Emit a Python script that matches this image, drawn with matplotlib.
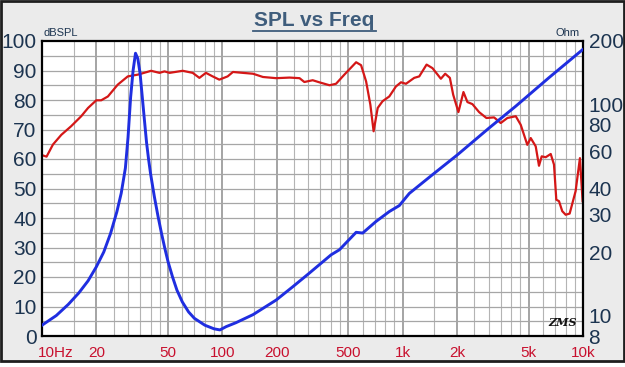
import numpy as np
import matplotlib
matplotlib.use("Agg")
import matplotlib.pyplot as plt
from matplotlib.patches import Rectangle
from matplotlib.lines import Line2D
from matplotlib.transforms import ScaledTranslation

# ---------------- data ----------------
spl_freq = [10.0, 10.6, 11.5, 12.8, 14.5, 16.5, 18.0, 20.0, 21.3, 23.2, 26.3, 29.9,
            34.0, 40.3, 44.8, 47.8, 51.0, 60.3, 68.5, 74.6, 81.1, 88.4, 96.2, 107,
            114.5, 130, 148, 168, 199, 236, 268, 285, 317, 345, 393, 427, 475, 552,
            588, 627, 662, 690, 727, 774, 843, 918, 979, 1043, 1159, 1236, 1357,
            1463, 1629, 1721, 1827, 1906, 2038, 2173, 2286, 2437, 2653, 2913, 3212,
            3499, 3807, 4238, 4515, 4911, 5130, 5467, 5701, 5902, 6210, 6622, 6905,
            7112, 7362, 7674, 8015, 8433, 9100, 9615, 9950]
spl_db = [61.3, 60.8, 64.9, 68.2, 71.1, 74.5, 77.3, 79.9, 79.9, 81.2, 85.2, 88.0,
          88.6, 89.9, 89.2, 89.7, 89.2, 89.9, 89.2, 87.5, 89.2, 88.0, 86.9, 88.0,
          89.5, 89.2, 88.9, 87.8, 87.4, 87.6, 87.4, 86.1, 86.7, 86.0, 85.0, 85.5,
          88.6, 92.8, 91.8, 86.3, 78.4, 69.4, 77.3, 79.6, 81.2, 84.6, 86.0, 85.5,
          87.5, 88.0, 92.0, 90.8, 87.2, 88.9, 87.5, 81.8, 75.9, 82.7, 79.3, 78.6,
          75.9, 73.9, 74.1, 72.2, 73.9, 74.5, 71.6, 64.8, 67.1, 64.3, 57.7, 60.9,
          60.6, 61.7, 58.1, 46.2, 45.7, 42.3, 41.1, 41.5, 49.1, 60.3, 45.7]

imp_freq = [10.0, 12.0, 14.0, 16.0, 18.0, 20.0, 22.0, 24.0, 26.0, 27.5, 29.0, 30.0,
            31.0, 32.0, 33.0, 34.0, 35.0, 36.0, 37.0, 38.0, 39.0, 40.0, 42.0, 44.0,
            46.0, 48.0, 50.0, 53.0, 56.0, 60.0, 65.0, 70.0, 80.0, 90.0, 97.0,
            105, 119, 148, 199, 246, 304, 401, 446, 552, 600, 711, 843, 958, 1088,
            1463, 2014, 3015, 4238, 6473, 9950]
imp_ohm = [9.0, 10.0, 11.3, 12.8, 14.6, 17.0, 20.0, 24.5, 31.0, 38.0, 50.0, 70.0,
           108.0, 145.0, 175.0, 165.0, 140.0, 108.0, 84.0, 66.0, 55.0, 47.0, 36.5, 29.5,
           24.5, 20.8, 18.0, 15.2, 13.2, 11.6, 10.4, 9.7, 9.0, 8.65, 8.55,
           8.86, 9.25, 10.1, 11.85, 13.7, 15.9, 19.4, 20.5, 24.8, 24.6, 27.9, 31.1,
           33.2, 37.9, 46.5, 57.8, 77.4, 98.2, 134.0, 182.0]

x_ticks = [10, 20, 50, 100, 200, 500, 1000, 2000, 5000, 10000]
x_labels = ["10Hz", "20", "50", "100", "200", "500", "1k", "2k", "5k", "10k"]
left_ticks = [0, 10, 20, 30, 40, 50, 60, 70, 80, 90, 100]
right_ticks = [8, 10, 20, 30, 40, 60, 80, 100, 200]

# ---------------- figure ----------------
W, H = 625, 367
fig = plt.figure(figsize=(W / 100, H / 100), dpi=100)
fig.patch.set_facecolor("white")
panel_bottom = 1 - 361 / H
fig.patches.append(Rectangle((0.002, panel_bottom), 0.996, 1 - panel_bottom - 0.003,
                             transform=fig.transFigure, facecolor="#ebebeb",
                             edgecolor="#1e1e1e", linewidth=2.0, zorder=-10))

ax = fig.add_axes([42 / W, 1 - 336 / H, 541 / W, 295 / H])
ax.set_facecolor("white")
ax.set_xscale("log")
ax.set_xlim(10, 10000)
ax.set_ylim(0, 100)

# grid
fine = [1, 1.5, 2, 2.5, 3, 3.5, 4, 4.5, 5, 6, 7, 8, 9]
for dec in [10, 100, 1000]:
    for m in fine:
        f = dec * m
        major = m in (1, 2, 5)
        ax.axvline(f, color="#8c8c8c" if major else "#b4b4b4",
                   lw=1.1 if major else 0.8, zorder=1)
for v in range(5, 100, 5):
    ax.axhline(v, color="#a6a6a6", lw=0.9, zorder=1)

ax.plot(spl_freq, spl_db, color="#d41717", lw=1.6, zorder=4)

ax.set_xticks(x_ticks)
ax.set_xticklabels(x_labels)
ax.xaxis.set_minor_locator(matplotlib.ticker.NullLocator())
ax.tick_params(axis="x", length=0, pad=7, labelsize=11, labelcolor="#c8102e")
ax.set_yticks(left_ticks)
ax.tick_params(axis="y", length=0, pad=4, labelsize=15, labelcolor="#1c3450")
for lab in ax.get_xticklabels():
    lab.set_fontfamily("Liberation Sans")
for lab in ax.get_yticklabels():
    lab.set_fontfamily("Liberation Sans")
first = ax.get_xticklabels()[0]
first.set_horizontalalignment("left")
first.set_transform(first.get_transform() + ScaledTranslation(-0.04, 0, fig.dpi_scale_trans))

for s in ax.spines.values():
    s.set_color("black")
    s.set_linewidth(1.6)
    s.set_zorder(6)

ax2 = ax.twinx()
ax2.set_yscale("log")
ax2.set_ylim(8, 200)
ax2.plot(imp_freq, imp_ohm, color="#1f2ee0", lw=2.1, zorder=5)
ax2.set_yticks(right_ticks)
ax2.set_yticklabels([str(t) for t in right_ticks])
ax2.yaxis.set_minor_locator(matplotlib.ticker.NullLocator())
ax2.tick_params(axis="y", length=0, pad=4, labelsize=15, labelcolor="#1c3450")
for lab in ax2.get_yticklabels():
    lab.set_fontfamily("Liberation Sans")
for s in ax2.spines.values():
    s.set_visible(False)

# texts
fig.text(314 / W, 1 - 20 / H, "SPL vs Freq", ha="center", va="center",
         fontsize=15, fontweight="bold", color="#3f5d7c", family="Liberation Sans")
fig.add_artist(Line2D([253 / W, 376 / W], [1 - 31 / H, 1 - 31 / H],
                      transform=fig.transFigure, color="#3f5d7c", lw=1.3))
fig.text(44 / W, 1 - 33 / H, "dBSPL", ha="left", va="center", fontsize=8,
         color="#1c3450", family="Liberation Sans")
fig.text(580 / W, 1 - 33 / H, "Ohm", ha="right", va="center", fontsize=8,
         color="#1c3450", family="Liberation Sans")
fig.text(563 / W, 1 - 323 / H, "ZMS", ha="center", va="center", fontsize=8,
         fontweight="bold", fontstyle="italic", color="#111111", family="DejaVu Serif")

fig.savefig("out.png", dpi=100)
